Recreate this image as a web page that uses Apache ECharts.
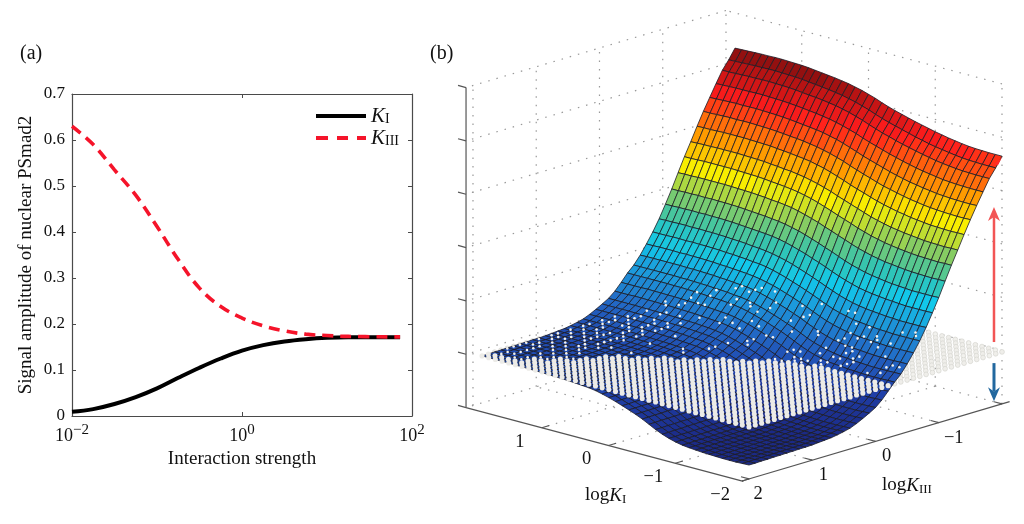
<!DOCTYPE html>
<html><head><meta charset="utf-8">
<style>html,body{margin:0;padding:0;background:#fff}#c{width:1024px;height:524px}</style>
<script src="https://cdn.jsdelivr.net/npm/echarts@6/dist/echarts.min.js"></script>
</head><body><div id="c"></div>
<script>
// Panel (a): x values are log10(interaction strength)
const logStrengthK1 = [-2,-1.75,-1.5,-1.25,-1,-0.75,-0.5,-0.25,0,0.25,0.5,0.75,1,1.25,1.86];
const amplitudeK1   = [0.009,0.015,0.026,0.041,0.060,0.083,0.105,0.125,0.142,0.154,0.162,0.167,0.170,0.171,0.171];
const logStrengthK3 = [-2,-1.75,-1.5,-1.25,-1,-0.75,-0.5,-0.25,0,0.25,0.5,0.75,1,1.25,1.86];
const amplitudeK3   = [0.630,0.590,0.535,0.480,0.412,0.340,0.278,0.238,0.213,0.196,0.185,0.178,0.175,0.173,0.172];
const yTicksFont = 17;

// Panel (b): grid axes, surface heights (thousandths; rows logKIII, columns logKI), plane level
const logKI = [2,1.9,1.8,1.7,1.6,1.5,1.4,1.3,1.2,1.1,1,0.9,0.8,0.7,0.6,0.5,0.4,0.3,0.2,0.1,0,-0.1,-0.2,-0.3,-0.4,-0.5,-0.6,-0.7,-0.8,-0.9,-1,-1.1,-1.2,-1.3,-1.4,-1.5,-1.6,-1.7,-1.8,-1.9,-2];
const logKIII = [2,1.9,1.8,1.7,1.6,1.5,1.4,1.3,1.2,1.1,1,0.9,0.8,0.7,0.6,0.5,0.4,0.3,0.2,0.1,0,-0.1,-0.2,-0.3,-0.4,-0.5,-0.6,-0.7,-0.8,-0.9,-1,-1.1,-1.2,-1.3,-1.4,-1.5,-1.6,-1.7,-1.8,-1.9,-2];
const planeLevel = 195;
const surfaceZ = [
[195,195,195,195,195,194,194,193,193,192,191,190,189,188,186,184,182,178,172,165,157,148,139,129,118,105,92,81,72,65,60,57,55,53,52,51,50,50,50,51,52],
[195,195,195,195,195,194,194,193,193,192,191,190,189,188,186,184,182,178,172,165,157,148,139,129,118,105,92,81,72,65,60,57,55,53,52,51,50,50,50,51,52],
[196,196,196,196,196,195,195,194,194,193,192,191,190,189,187,185,183,179,173,166,158,149,140,130,119,106,93,82,73,66,61,58,56,54,53,52,51,51,51,52,53],
[196,196,196,196,196,195,195,194,194,193,192,191,190,189,187,185,183,179,173,166,158,149,140,130,119,106,93,82,73,66,61,58,56,54,53,52,51,51,51,52,53],
[197,197,197,197,197,196,196,195,195,194,193,192,191,190,188,186,184,180,174,167,159,150,141,131,120,107,94,83,74,67,62,59,57,55,54,53,52,52,52,53,54],
[197,197,197,197,197,196,196,195,195,194,193,192,191,190,188,186,184,180,174,167,159,150,141,131,120,107,94,83,74,67,62,59,57,55,54,53,52,52,52,53,54],
[198,198,198,198,198,197,197,196,196,195,194,193,192,191,189,187,185,181,175,168,160,151,142,132,121,108,95,84,75,68,63,60,58,56,55,54,53,53,53,54,55],
[198,198,198,198,198,197,197,196,196,195,194,193,192,191,189,187,185,181,175,168,160,151,142,132,121,108,95,84,75,68,63,60,58,56,55,54,53,53,53,54,55],
[199,199,199,199,199,198,198,197,197,196,195,194,193,192,190,188,186,182,176,169,161,152,143,133,122,109,96,85,76,69,64,61,59,57,56,55,54,54,54,55,56],
[199,199,199,199,199,198,198,197,197,196,195,194,193,192,190,188,186,182,176,169,161,152,143,133,122,109,96,85,76,69,64,61,59,57,56,55,54,54,54,55,56],
[200,200,200,200,200,199,199,198,198,197,196,195,194,193,191,189,187,183,177,170,162,153,144,134,123,110,97,86,77,70,65,62,60,58,57,56,55,55,55,56,57],
[202,202,202,202,202,201,201,200,200,199,198,197,196,195,193,191,189,185,179,172,164,155,146,136,125,112,99,88,79,72,67,64,62,60,59,58,57,57,57,58,59],
[204,204,204,204,204,203,203,202,202,201,200,199,198,197,195,193,191,187,181,174,166,157,148,138,127,114,101,90,81,74,69,66,64,62,61,60,59,59,59,60,61],
[206,206,206,206,206,205,205,204,204,203,202,201,200,199,197,195,193,189,183,176,168,159,150,140,129,116,103,92,83,76,71,68,66,64,63,62,61,61,61,62,63],
[210,210,210,210,210,209,209,208,208,207,206,205,204,203,201,199,197,193,187,180,172,163,154,144,133,120,107,96,87,80,75,72,70,68,67,66,65,65,65,66,67],
[215,215,215,215,215,214,214,213,213,212,211,210,209,208,206,204,202,198,192,185,177,168,159,149,138,125,112,101,92,85,80,77,75,73,72,71,70,70,70,71,72],
[221,221,221,221,221,220,220,219,219,218,217,216,215,214,212,210,208,204,198,191,183,174,165,155,144,131,118,107,98,91,86,83,81,79,78,77,76,76,76,77,78],
[231,231,231,231,231,230,230,229,229,228,227,226,225,224,222,220,218,214,208,201,193,184,175,165,154,141,128,117,108,101,96,93,91,89,88,87,86,86,86,87,88],
[243,243,243,243,243,242,242,241,241,240,239,238,237,236,234,232,230,226,220,213,205,196,187,177,166,153,141,130,121,114,109,105,103,101,100,99,98,98,98,99,100],
[256,256,256,256,256,255,255,254,254,253,252,251,250,249,247,245,243,239,233,226,218,209,200,190,179,166,154,143,134,127,122,119,116,114,113,112,111,111,111,112,113],
[270,270,270,270,270,269,269,268,268,267,266,265,264,263,261,259,256,252,246,239,231,222,213,203,192,180,168,157,148,141,136,133,130,128,127,126,125,125,125,126,127],
[290,290,290,291,291,290,290,289,289,288,287,286,285,283,281,279,277,273,267,260,252,243,234,224,213,201,189,178,170,163,158,154,152,150,148,147,146,146,146,147,148],
[316,316,316,316,317,316,316,315,315,314,313,312,310,309,307,305,303,299,293,286,278,269,260,250,239,227,215,205,196,189,184,181,178,176,175,173,172,172,172,173,174],
[344,344,344,344,344,344,344,343,343,342,341,340,338,337,335,333,330,326,320,313,305,297,287,278,267,255,243,233,224,218,212,209,207,204,203,201,200,200,200,201,201],
[367,367,367,367,367,367,367,366,366,365,364,363,361,360,358,355,353,349,343,336,328,319,310,300,290,278,266,256,248,241,236,232,230,227,226,224,223,223,223,224,224],
[397,398,398,398,398,398,398,397,397,396,395,394,392,391,388,386,384,380,374,367,359,350,341,331,321,309,298,288,279,272,267,264,261,259,257,255,254,254,254,255,255],
[432,432,433,433,433,432,433,432,432,431,430,428,427,425,423,421,418,414,408,402,394,385,376,366,356,344,333,323,315,308,303,299,296,294,292,291,289,289,289,289,290],
[470,470,470,471,471,470,471,470,470,469,468,466,465,463,461,458,456,452,446,439,431,422,413,403,393,382,371,361,353,347,341,338,335,332,330,329,327,327,327,327,328],
[512,513,513,514,514,513,514,513,513,512,511,509,508,506,503,501,498,494,488,482,474,465,456,446,436,425,415,405,397,390,385,381,378,376,373,372,370,370,370,370,371],
[560,560,561,561,562,561,562,561,561,560,559,557,555,553,551,549,546,542,536,529,521,513,503,494,484,473,463,454,446,439,434,430,427,424,422,420,418,418,418,418,419],
[610,610,611,611,612,611,612,611,611,610,609,607,605,603,601,598,595,591,585,579,571,562,553,543,534,523,513,504,497,490,485,481,477,474,472,470,468,468,468,468,469],
[664,665,665,666,666,666,666,666,665,664,663,662,660,658,655,653,650,646,640,633,625,617,607,598,588,579,569,560,553,546,541,536,533,530,527,525,524,523,522,523,523],
[717,717,718,719,719,719,719,719,718,717,716,715,713,710,708,705,702,698,692,686,678,669,660,650,641,632,622,614,606,600,594,590,586,583,580,578,577,576,575,576,576],
[766,767,768,768,769,769,769,769,768,767,766,765,762,760,757,755,751,747,741,735,727,719,709,700,691,682,673,664,657,651,645,641,637,634,631,628,627,626,625,626,626],
[817,818,818,819,820,820,820,820,819,818,817,816,813,811,808,805,802,798,792,786,778,769,760,750,741,733,724,716,709,703,697,693,688,685,682,679,678,677,676,677,677],
[866,866,867,868,869,868,869,869,868,867,866,864,862,859,857,854,850,846,840,834,826,818,808,799,790,782,773,765,759,753,747,742,738,734,731,729,727,726,725,725,726],
[911,912,913,914,915,914,915,915,914,913,912,910,908,905,902,899,896,892,886,880,872,863,854,844,836,828,820,812,805,799,793,789,784,781,777,775,773,772,771,771,772],
[956,957,958,959,959,959,960,960,959,958,957,955,953,950,947,944,940,936,930,924,916,908,898,889,881,873,865,858,851,845,839,834,830,826,822,820,818,817,816,816,816],
[999,999,1000,1001,1002,1002,1003,1003,1002,1001,1000,998,995,992,990,987,983,979,973,967,959,951,941,932,923,916,908,901,895,889,883,878,873,869,866,863,861,860,859,859,859],
[1031,1032,1033,1034,1035,1035,1036,1036,1035,1034,1033,1031,1028,1025,1022,1019,1015,1011,1005,999,991,983,973,964,956,949,942,935,928,922,916,911,907,903,899,896,894,893,892,892,892],
[1068,1069,1070,1071,1072,1072,1073,1073,1072,1071,1070,1068,1065,1062,1059,1056,1052,1048,1042,1036,1028,1020,1010,1001,993,986,979,972,966,960,954,949,944,940,936,933,931,930,929,929,929]
];
const zTicks = [0,200,400,600,800,1000,1200];
const kiTicks = [1,0,-1,-2];
const kiiiTicks = [2,1,0,-1];
const uMax = 2.135, uMin = -2, vMax = 2.11, vMin = -2, zTop = 1200;

const SERIF = '"Liberation Serif","Times New Roman",serif';
// oblique projection of the 3-D box onto the page
const proj = (u, v, z) => [742 - 66.75*u - 63.25*v, 405.9 - 17.75*u + 18.75*v - 0.26667*z];

const stops = [[0,'#1b2a86'],[0.11,'#1f3fa8'],[0.2,'#2266c4'],[0.3,'#1c9cdc'],[0.375,'#12c8ea'],[0.45,'#34c4b0'],[0.53,'#84cc64'],[0.625,'#f8ee00'],[0.72,'#ff9a00'],[0.85,'#ff1c1c'],[0.93,'#c01414'],[1,'#6e0c0c']];
const hex = s => [1,3,5].map(k => parseInt(s.substr(k,2),16));
function jet(z){
  let t = (z-46)/1027; t = Math.max(0,Math.min(1,Math.floor(t*64)/64));
  for(let k=1;k<stops.length;k++){
    if(t<=stops[k][0]){
      const a=stops[k-1],b=stops[k],f=(t-a[0])/(b[0]-a[0]),A=hex(a[1]),B=hex(b[1]);
      return 'rgb('+A.map((c,n)=>Math.round(c+(B[n]-c)*f)).join(',')+')';
    }
  }
  return stops[stops.length-1][1];
}

const cells=[], dotsUnder=[], dotsOver=[], specks=[];
for(let j=logKIII.length-2;j>=0;j--) for(let i=0;i<logKI.length-1;i++) cells.push([i,j]);
for(let j=logKIII.length-1;j>=0;j--) for(let i=0;i<logKI.length;i++){
  const d=surfaceZ[j][i]-planeLevel;
  if(d<=0) dotsOver.push([i,j]); else {
    dotsUnder.push([i,j]);
    // the plane pokes through the mesh in irregular clumps, thinning out higher up
    const clump=((i>>3)*5+(j>>2)*3)%3===0;
    let h=(i*73)^(j*179); h=((h^(h>>3))*37)%101;
    if(h<(d<150?(clump?50:12):(clump?20:8))) specks.push([i,j]);
  }
}
const dotted=[], solid=[];
const seg=(list,a,b)=>list.push([a[0],a[1],a[2],b[0],b[1],b[2]]);
zTicks.forEach(z=>{ seg(dotted,[uMax,vMin,z],[uMax,vMax,z]); seg(dotted,[uMin,vMin,z],[uMax,vMin,z]); });
kiiiTicks.concat([vMin]).forEach(v=>{ if(v<vMax){ seg(dotted,[uMax,v,0],[uMax,v,zTop]); } });
kiTicks.forEach(u=>{ seg(dotted,[u,vMin,0],[u,vMin,zTop]); });
kiiiTicks.forEach(v=>{ if(v<2) seg(dotted,[uMin,v,0],[uMax,v,0]); });
kiTicks.forEach(u=>{ if(u>uMin) seg(dotted,[u,vMin,0],[u,vMax,0]); });
seg(solid,[uMax,vMax,0],[uMax,vMax,zTop]);
seg(solid,[uMax,vMax,0],[uMin-0.02,vMax,0]);
seg(solid,[uMin,vMax,0],[uMin,vMin-0.12,0]);
zTicks.forEach(z=>seg(solid,[uMax,vMax,z],[uMax+0.12,vMax,z]));
kiTicks.forEach(u=>seg(solid,[u,vMax,0],[u,vMax-0.12,0]));
[2,1,0,-1,-2].forEach(v=>seg(solid,[uMin,v,0],[uMin+0.12,v,0]));

const sceneBase={type:'custom',coordinateSystem:'cartesian2d',xAxisIndex:2,yAxisIndex:2,clip:false,silent:true,animation:false,progressive:0};
const lineSeries=(data,style)=>Object.assign({},sceneBase,{data,renderItem(p,api){
  const a=api.coord(proj(api.value(0),api.value(1),api.value(2))),b=api.coord(proj(api.value(3),api.value(4),api.value(5)));
  return {type:'line',shape:{x1:a[0],y1:a[1],x2:b[0],y2:b[1]},style};
}});
const dotSeries=(data,r,style)=>Object.assign({},sceneBase,{data,renderItem(p,api){
  const i=api.value(0),j=api.value(1),c=api.coord(proj(logKI[i],logKIII[j],planeLevel));
  return {type:'circle',shape:{cx:c[0],cy:c[1],r},style};
}});
const surfaceSeries=Object.assign({},sceneBase,{data:cells,renderItem(p,api){
  const i=api.value(0),j=api.value(1),Z=surfaceZ;
  const corners=[[i,j],[i+1,j],[i+1,j+1],[i,j+1]];
  const pts=corners.map(c=>api.coord(proj(logKI[c[0]],logKIII[c[1]],Z[c[1]][c[0]])));
  const m=corners.reduce((s,c)=>s+Z[c[1]][c[0]],0)/4;
  return {type:'polygon',shape:{points:pts},style:{fill:jet(m),stroke:'#1c1c26',lineWidth:0.8,opacity:1}};
}});
// [logKI, logKIII, from, to, colour, line width]
const arrows=[[-1.88,-2,224,730,'#f25555',2.5],[-1.88,-2,145,2,'#22689f',3]];
const arrowSeries=Object.assign({},sceneBase,{data:arrows.map((a,n)=>[n]),renderItem(p,api){
  const a=arrows[api.value(0)],s=api.coord(proj(a[0],a[1],a[2])),e=api.coord(proj(a[0],a[1],a[3]));
  const dir=e[1]<s[1]?1:-1,h=14*dir,w=6;
  return {type:'group',children:[
    {type:'line',shape:{x1:s[0],y1:s[1],x2:e[0],y2:e[1]+h*0.7},style:{stroke:a[4],lineWidth:a[5]}},
    {type:'polygon',shape:{points:[[e[0],e[1]],[e[0]+w,e[1]+h],[e[0],e[1]+h*0.7],[e[0]-w,e[1]+h]]},style:{fill:a[4]}}
  ]};
}});
const cornerTip=Object.assign({},sceneBase,{data:[[-2,-2,929]],renderItem(p,api){
  const c=api.coord(proj(api.value(0),api.value(1),api.value(2)));
  return {type:'polygon',shape:{points:[[c[0],c[1]+1],[c[0]-8,c[1]+8],[c[0]-4,c[1]+9]]},style:{fill:'#ff2a2a'}};
}});
const label3d=[];
kiTicks.forEach(u=>label3d.push([u,vMax,0,-22,14,String(u).replace('-','\u2212')]));
kiiiTicks.forEach(v=>label3d.push([uMin,v,0,v<0?15:(v===2?9:11),15,String(v).replace('-','\u2212')]));
const labelSeries=Object.assign({},sceneBase,{data:label3d.map((a,n)=>[n]),renderItem(p,api){
  const a=label3d[api.value(0)],c=api.coord(proj(a[0],a[1],a[2]));
  return {type:'text',style:{text:a[5],x:c[0]+a[3],y:c[1]+a[4],align:'center',verticalAlign:'middle',fill:'#111',font:'18.5px '+SERIF}};
}});

const legendRich={k:{fontFamily:SERIF,fontStyle:'italic',fontSize:21,color:'#111',verticalAlign:'top',lineHeight:20},
                  s:{fontFamily:SERIF,fontSize:14,color:'#111',verticalAlign:'bottom',lineHeight:20}};
const axisCommon={axisLine:{onZero:false,lineStyle:{color:'#4a4a4a',width:1.2}},axisTick:{inside:true,length:4,lineStyle:{color:'#4a4a4a'}},splitLine:{show:false}};
const off={axisLabel:{show:false},name:''};
const logRich={a:{fontFamily:SERIF,fontSize:19,fill:'#111',verticalAlign:'top',lineHeight:20},k:{fontFamily:SERIF,fontStyle:'italic',fontSize:19,fill:'#111',verticalAlign:'top',lineHeight:20},s:{fontFamily:SERIF,fontSize:13,fill:'#111',verticalAlign:'bottom',lineHeight:20}};
const chart=echarts.init(document.getElementById('c'),null,{renderer:'canvas'});
chart.setOption({
  animation:false,backgroundColor:'#fff',
  title:[
    {text:'(a)',left:15,top:39,textStyle:{fontFamily:SERIF,fontSize:20,fontWeight:'normal',color:'#111'}},
    {text:'(b)',left:425,top:39,textStyle:{fontFamily:SERIF,fontSize:20,fontWeight:'normal',color:'#111'}}
  ],
  grid:[{left:72,top:94,width:340,height:322,containLabel:false},{left:0,top:0,width:1024,height:524}],
  legend:{left:311,top:101,orient:'vertical',itemWidth:50,itemHeight:4,itemGap:1,
    data:[{name:'KI',icon:'path://M0 0H50V4H0Z'},{name:'KIII',icon:'path://M0 0H12V4H0ZM21 0H32V4H21ZM41 0H50V4H41Z'}],
    textStyle:{rich:legendRich},
    formatter:n=>'{k|K}{s|'+n.slice(1)+'}'},
  xAxis:[
    Object.assign({},axisCommon,{type:'value',gridIndex:0,min:-2,max:2,interval:2,position:'bottom',
      name:'Interaction strength',nameLocation:'middle',nameGap:33,nameTextStyle:{fontFamily:SERIF,fontSize:19,color:'#111'},
      axisLabel:{margin:7,formatter:v=>'{b|10}{s|'+String(v).replace('-','\u2212')+'}',
        rich:{b:{fontFamily:SERIF,fontSize:18,color:'#111',verticalAlign:'bottom',lineHeight:22},s:{fontFamily:SERIF,fontSize:15,color:'#111',verticalAlign:'top',lineHeight:22}}}}),
    Object.assign({},axisCommon,off,{type:'value',gridIndex:0,min:-2,max:2,interval:2,position:'top'}),
    {type:'value',gridIndex:1,min:0,max:1024,show:false}
  ],
  yAxis:[
    Object.assign({},axisCommon,{type:'value',gridIndex:0,min:0,max:0.7,interval:0.1,position:'left',
      name:'Signal amplitude of nuclear PSmad2',nameLocation:'middle',nameGap:36,nameRotate:90,nameTextStyle:{fontFamily:SERIF,fontSize:19,color:'#111'},
      axisLabel:{margin:7,fontFamily:SERIF,fontSize:yTicksFont,color:'#111'}}),
    Object.assign({},axisCommon,off,{type:'value',gridIndex:0,min:0,max:0.7,interval:0.1,position:'right'}),
    {type:'value',gridIndex:1,min:0,max:524,inverse:true,show:false}
  ],
  series:[
    {name:'KI',type:'line',xAxisIndex:0,yAxisIndex:0,smooth:0.4,symbol:'none',data:logStrengthK1.map((x,i)=>[x,amplitudeK1[i]]),lineStyle:{color:'#000',width:4},itemStyle:{color:'#000'}},
    {name:'KIII',type:'line',xAxisIndex:0,yAxisIndex:0,smooth:0.4,symbol:'none',data:logStrengthK3.map((x,i)=>[x,amplitudeK3[i]]),lineStyle:{color:'#f5142a',width:3.6,type:[11,7]},itemStyle:{color:'#f5142a'}},
    lineSeries(dotted,{stroke:'#999',lineWidth:1.2,lineDash:[1.5,7]}),
    dotSeries(dotsUnder,2.4,{fill:'#efeeea',stroke:'#d6d5d0',lineWidth:0.7}),
    surfaceSeries,
    dotSeries(specks,1.3,{fill:'#f2f2ee'}),
    dotSeries(dotsOver,2.55,{fill:'#ecebe7'}),
    lineSeries(solid,{stroke:'#555',lineWidth:1.2}),
    arrowSeries,cornerTip,labelSeries
  ],
  graphic:[
    {type:'text',left:585,top:486,style:{text:'{a|log}{k|K}{s|I}',rich:logRich}},
    {type:'text',left:882,top:476,style:{text:'{a|log}{k|K}{s|III}',rich:logRich}}
  ]
});
</script></body></html>
